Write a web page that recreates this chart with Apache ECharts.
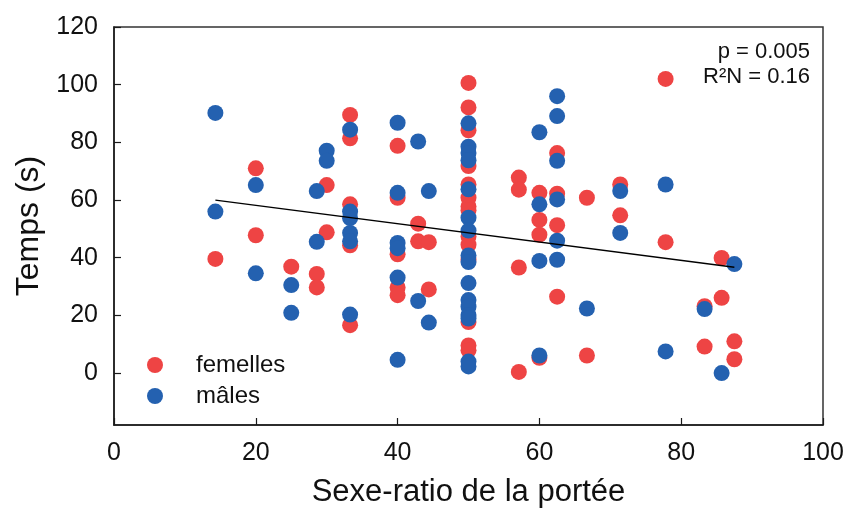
<!DOCTYPE html>
<html>
<head>
<meta charset="utf-8">
<script src="https://cdn.jsdelivr.net/npm/echarts@6/dist/echarts.min.js"></script>
<style>
  html, body { margin: 0; padding: 0; background: #fff; }
  #chart { width: 848px; height: 516px; }
</style>
</head>
<body>
<div id="chart"></div>
<script>
// Sex ratio of the litter (%) and time (s) for each pup
const femellesX = [
  14.3, 20, 20, 25, 28.6, 28.6, 30, 30,
  33.3, 33.3, 33.3, 33.3, 33.3,
  40, 40, 40, 40, 40,
  42.9, 42.9, 44.4, 44.4,
  50, 50, 50, 50, 50, 50, 50, 50, 50, 50, 50, 50, 50, 50,
  57.1, 57.1, 57.1, 57.1,
  60, 60, 60, 60,
  62.5, 62.5, 62.5, 62.5,
  66.7, 66.7, 71.4, 71.4, 77.8, 77.8,
  83.3, 83.3, 85.7, 85.7, 87.5, 87.5
];
const femellesY = [
  39.6, 71.0, 47.8, 36.9, 34.4, 29.7, 65.2, 48.8,
  89.5, 81.4, 58.5, 44.3, 16.6,
  78.8, 60.8, 41.2, 29.7, 27.0,
  51.8, 45.7, 45.4, 29.0,
  100.6, 92.1, 84.2, 71.8, 65.4, 60.8, 57.8, 56.5, 47.4, 44.5, 39.3, 17.7, 9.6, 7.9,
  67.8, 63.6, 36.6, 0.4,
  62.5, 53.1, 48.0, 5.3,
  76.3, 62.2, 51.3, 26.5,
  60.8, 6.1, 65.4, 54.7, 102.0, 45.4,
  23.2, 9.2, 39.9, 26.1, 11.0, 4.8
];
const malesX = [
  14.3, 14.3, 20, 20, 25, 25, 28.6, 28.6, 30, 30,
  33.3, 33.3, 33.3, 33.3, 33.3, 33.3,
  40, 40, 40, 40, 40, 40,
  42.9, 42.9, 44.4, 44.4,
  50, 50, 50, 50, 50, 50, 50, 50, 50, 50, 50, 50, 50, 50, 50, 50,
  60, 60, 60, 60,
  62.5, 62.5, 62.5, 62.5, 62.5, 62.5,
  66.7, 71.4, 71.4, 77.8, 77.8, 83.3, 85.7, 87.5
];
const malesY = [
  90.2, 56.0, 65.2, 34.6, 30.5, 20.9, 63.1, 45.5, 77.1, 73.6,
  84.4, 56.0, 53.7, 48.6, 45.7, 20.3,
  86.8, 62.5, 45.1, 43.3, 33.1, 4.6,
  80.3, 25.0, 63.1, 17.5,
  86.6, 78.5, 76.3, 73.8, 63.7, 53.9, 49.4, 40.8, 38.5, 31.2, 25.3, 23.0, 20.1, 18.9, 4.0, 2.3,
  83.5, 58.5, 38.9, 6.1,
  96.0, 89.1, 73.6, 60.2, 45.9, 39.3,
  22.4, 63.1, 48.6, 65.4, 7.5, 22.2, 0.0, 37.8
];
// Fitted regression line end points
const trendX = [14.3, 87.5];
const trendY = [60.0, 36.7];

const xTicks = [0, 20, 40, 60, 80, 100];
const yTicks = [0, 20, 40, 60, 80, 100, 120];

const pairs = (xs, ys) => xs.map((x, i) => [x, ys[i]]);

const FONT = '"Liberation Sans", Arial, sans-serif';
const AXIS_COLOR = '#1a1a1a';

const chart = echarts.init(document.getElementById('chart'), null, { renderer: 'canvas' });
chart.setOption({
  animation: false,
  backgroundColor: '#fff',
  grid: {
    left: 114, right: 25, top: 27, bottom: 91,
    outerBoundsMode: 'none',
    containLabel: false,
    show: true, borderColor: '#333', borderWidth: 1.5, backgroundColor: 'transparent'
  },
  xAxis: {
    type: 'value',
    min: 0, max: 100,
    name: 'Sexe-ratio de la portée',
    nameLocation: 'middle',
    nameGap: 52,
    nameTextStyle: { fontFamily: FONT, fontSize: 31, color: '#111' },
    axisLine: { show: true, onZero: false, lineStyle: { color: AXIS_COLOR, width: 1.5 } },
    axisTick: { show: true, inside: true, length: 7, customValues: xTicks, lineStyle: { color: AXIS_COLOR, width: 1.2 } },
    axisLabel: { customValues: xTicks, fontFamily: FONT, fontSize: 25, color: '#111', margin: 16 },
    splitLine: { show: false }
  },
  yAxis: {
    type: 'value',
    min: -18, max: 120,
    name: 'Temps (s)',
    nameLocation: 'middle',
    nameGap: 69,
    nameRotate: 90,
    nameTextStyle: { fontFamily: FONT, fontSize: 32, color: '#111' },
    axisLine: { show: true, onZero: false, lineStyle: { color: AXIS_COLOR, width: 1.5 } },
    axisTick: { show: true, inside: true, length: 7, customValues: yTicks, lineStyle: { color: AXIS_COLOR, width: 1.2 } },
    axisLabel: { customValues: yTicks, fontFamily: FONT, fontSize: 25, color: '#111', margin: 16 },
    splitLine: { show: false }
  },
  legend: {
    orient: 'vertical',
    left: 142, top: 348,
    itemWidth: 16, itemHeight: 16, itemGap: 7,
    icon: 'circle',
    data: ['femelles', 'mâles'],
    textStyle: { fontFamily: FONT, fontSize: 24, color: '#111', padding: [0, 0, 0, 28] }
  },
  graphic: [
    {
      type: 'text',
      style: { text: 'p = 0.005', x: 810, y: 52, textAlign: 'right', textVerticalAlign: 'middle', font: '22px ' + FONT, fill: '#111' }
    },
    {
      type: 'text',
      style: { text: 'R²N = 0.16', x: 810, y: 77, textAlign: 'right', textVerticalAlign: 'middle', font: '22px ' + FONT, fill: '#111' }
    }
  ],
  series: [
    {
      name: 'femelles',
      type: 'scatter',
      symbolSize: 16,
      itemStyle: { color: '#EE4444', opacity: 1 },
      data: pairs(femellesX, femellesY),
      z: 2
    },
    {
      name: 'mâles',
      type: 'scatter',
      symbolSize: 16,
      itemStyle: { color: '#2461B0', opacity: 1 },
      data: pairs(malesX, malesY),
      z: 3
    },
    {
      name: 'tendance',
      type: 'line',
      data: pairs(trendX, trendY),
      symbol: 'none',
      lineStyle: { color: '#000', width: 1.3 },
      z: 4
    }
  ]
});
</script>
</body>
</html>
